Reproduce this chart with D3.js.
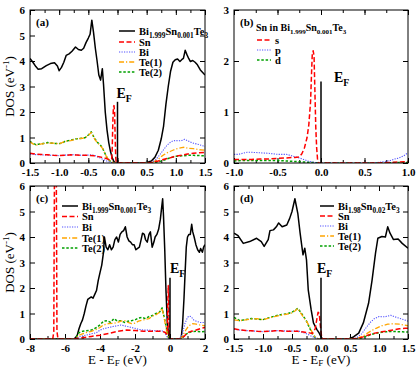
<!DOCTYPE html>
<html>
<head>
<meta charset="utf-8">
<script src="https://cdn.jsdelivr.net/npm/d3@7"></script>
<style>
body { margin: 0; background: #fff; }
svg { display: block; }
text { font-family: "Liberation Serif", "Times New Roman", serif; }
</style>
</head>
<body>
<div id="chart"></div>
<script>
// ---- data (E - E_F in eV, DOS in 1/eV) ----
var aTotal = [[-1.5,4.1],[-1.45,3.95],[-1.4,3.78],[-1.36,3.68],[-1.3,3.7],[-1.22,3.82],[-1.15,3.9],[-1.08,3.93],[-1.03,3.8],[-1.0,3.62],[-0.96,3.75],[-0.92,3.95],[-0.88,4.22],[-0.83,4.28],[-0.78,4.38],[-0.72,4.55],[-0.67,4.45],[-0.62,4.42],[-0.58,4.5],[-0.54,4.72],[-0.5,4.9],[-0.47,5.05],[-0.44,5.6],[-0.41,5.1],[-0.38,4.5],[-0.35,4.0],[-0.32,3.45],[-0.29,3.25],[-0.26,3.7],[-0.24,3.1],[-0.21,2.0],[-0.18,1.3],[-0.15,0.8],[-0.12,0.45],[-0.09,0.2],[-0.06,0.05],[-0.03,0],[0.45,0],[0.52,0.03],[0.58,0.08],[0.64,0.22],[0.7,0.5],[0.75,0.95],[0.79,1.45],[0.83,2.3],[0.87,3.0],[0.91,3.6],[0.95,3.95],[0.99,4.05],[1.03,4.08],[1.07,3.98],[1.1,4.05],[1.13,4.1],[1.16,4.42],[1.19,4.25],[1.22,4.1],[1.25,3.98],[1.29,4.02],[1.33,3.95],[1.37,3.85],[1.42,3.65],[1.46,3.55],[1.5,3.45]];
var aSn = [[-1.5,0.38],[-1.4,0.35],[-1.3,0.33],[-1.2,0.32],[-1.1,0.3],[-1.0,0.29],[-0.9,0.3],[-0.8,0.32],[-0.7,0.31],[-0.6,0.3],[-0.5,0.3],[-0.4,0.28],[-0.3,0.24],[-0.2,0.18],[-0.13,0.12],[-0.1,0.15],[-0.09,0.6],[-0.08,1.6],[-0.07,2.2],[-0.06,2.25],[-0.05,2.0],[-0.04,1.0],[-0.03,0.2],[-0.02,0],[0.5,0],[0.6,0.02],[0.7,0.08],[0.8,0.15],[0.9,0.2],[1.0,0.27],[1.1,0.3],[1.2,0.35],[1.3,0.38],[1.4,0.4],[1.5,0.42]];
var aBi = [[-1.5,0.35],[-1.4,0.33],[-1.3,0.32],[-1.2,0.31],[-1.1,0.3],[-1.0,0.29],[-0.9,0.31],[-0.8,0.33],[-0.7,0.32],[-0.6,0.3],[-0.5,0.31],[-0.45,0.32],[-0.4,0.3],[-0.35,0.25],[-0.3,0.2],[-0.25,0.14],[-0.2,0.09],[-0.15,0.05],[-0.1,0.02],[-0.05,0],[0.55,0],[0.6,0.05],[0.65,0.12],[0.7,0.25],[0.75,0.4],[0.8,0.55],[0.85,0.7],[0.9,0.8],[0.95,0.87],[1.0,0.88],[1.05,0.87],[1.1,0.88],[1.15,0.93],[1.2,0.88],[1.25,0.82],[1.3,0.78],[1.35,0.75],[1.4,0.72],[1.45,0.68],[1.5,0.65]];
var aTe1 = [[-1.5,0.82],[-1.45,0.75],[-1.4,0.7],[-1.35,0.72],[-1.3,0.75],[-1.2,0.78],[-1.1,0.78],[-1.0,0.75],[-0.95,0.8],[-0.9,0.85],[-0.8,0.88],[-0.7,0.95],[-0.6,0.97],[-0.55,1.0],[-0.5,1.08],[-0.45,1.2],[-0.42,1.05],[-0.38,0.9],[-0.34,0.78],[-0.3,0.7],[-0.25,0.55],[-0.2,0.3],[-0.15,0.12],[-0.1,0.04],[-0.05,0],[0.55,0],[0.6,0.03],[0.65,0.08],[0.7,0.15],[0.75,0.25],[0.8,0.33],[0.85,0.4],[0.9,0.45],[0.95,0.5],[1.0,0.55],[1.1,0.6],[1.15,0.62],[1.2,0.58],[1.3,0.56],[1.4,0.52],[1.5,0.5]];
var aTe2 = [[-1.5,0.85],[-1.45,0.77],[-1.4,0.72],[-1.35,0.74],[-1.3,0.75],[-1.2,0.8],[-1.1,0.77],[-1.0,0.76],[-0.95,0.78],[-0.9,0.85],[-0.8,0.9],[-0.7,0.95],[-0.6,0.97],[-0.55,1.0],[-0.5,1.1],[-0.45,1.22],[-0.42,1.08],[-0.38,0.92],[-0.34,0.8],[-0.3,0.72],[-0.26,0.6],[-0.22,0.4],[-0.18,0.2],[-0.12,0.06],[-0.06,0],[0.6,0],[0.7,0.04],[0.8,0.12],[0.9,0.2],[1.0,0.26],[1.1,0.28],[1.2,0.3],[1.3,0.3],[1.4,0.29],[1.5,0.28]];

var bS = [[-1,0.07],[-0.9,0.07],[-0.8,0.07],[-0.7,0.08],[-0.6,0.08],[-0.5,0.09],[-0.4,0.1],[-0.3,0.11],[-0.25,0.12],[-0.22,0.18],[-0.19,0.3],[-0.16,0.5],[-0.14,0.75],[-0.12,1.2],[-0.11,1.7],[-0.1,2.15],[-0.09,2.2],[-0.08,2.1],[-0.07,1.4],[-0.06,0.7],[-0.05,0.3],[-0.04,0.08],[-0.03,0],[0.6,0],[0.7,0.005],[0.8,0.01],[0.9,0.02],[1.0,0.03]];
var bP = [[-1,0.17],[-0.95,0.17],[-0.9,0.19],[-0.85,0.21],[-0.8,0.21],[-0.7,0.2],[-0.6,0.19],[-0.5,0.17],[-0.4,0.17],[-0.35,0.15],[-0.3,0.12],[-0.25,0.1],[-0.2,0.07],[-0.15,0.04],[-0.1,0.02],[-0.05,0.005],[0,0],[0.6,0],[0.7,0.02],[0.8,0.05],[0.85,0.08],[0.9,0.1],[0.95,0.14],[1.0,0.2]];
var bD = [[-1,0.04],[-0.9,0.05],[-0.8,0.05],[-0.7,0.05],[-0.6,0.05],[-0.5,0.05],[-0.4,0.04],[-0.3,0.03],[-0.2,0.02],[-0.1,0.01],[0,0],[0.7,0],[0.85,0.01],[1.0,0.01]];

var cTotal = [[-8,0],[-5.5,0],[-5.4,0.05],[-5.3,0.15],[-5.2,0.4],[-5.1,0.6],[-5.0,0.75],[-4.9,1.0],[-4.8,1.3],[-4.7,1.55],[-4.6,1.6],[-4.5,1.65],[-4.4,1.6],[-4.3,1.75],[-4.2,1.9],[-4.1,2.3],[-4.0,2.6],[-3.9,2.9],[-3.8,3.4],[-3.75,4.0],[-3.65,3.6],[-3.55,3.5],[-3.45,3.7],[-3.35,3.5],[-3.25,3.6],[-3.15,3.9],[-3.05,4.0],[-2.95,3.8],[-2.85,4.1],[-2.75,4.2],[-2.65,4.25],[-2.55,4.4],[-2.45,4.0],[-2.35,3.85],[-2.25,3.8],[-2.15,3.7],[-2.05,3.7],[-1.95,3.5],[-1.85,3.55],[-1.75,3.6],[-1.65,3.9],[-1.57,4.15],[-1.47,4.1],[-1.4,3.9],[-1.3,3.8],[-1.2,4.1],[-1.12,4.2],[-1.02,3.6],[-0.92,3.8],[-0.85,4.0],[-0.75,4.1],[-0.65,4.3],[-0.55,4.7],[-0.47,5.2],[-0.42,5.5],[-0.37,4.8],[-0.3,3.5],[-0.23,1.9],[-0.15,0.6],[-0.05,0],[0.6,0],[0.65,0.1],[0.72,0.6],[0.8,1.6],[0.87,2.7],[0.93,3.6],[1.0,4.0],[1.08,4.1],[1.16,4.1],[1.24,4.5],[1.3,4.2],[1.38,4.0],[1.48,3.7],[1.58,3.5],[1.68,3.4],[1.75,3.55],[1.85,3.4],[1.92,3.6],[2.0,3.7]];
var cSn = [[-8,0],[-6.7,0],[-6.64,0.3],[-6.6,7],[-6.5,7],[-6.46,0.3],[-6.4,0],[-5.5,0],[-5.2,0.03],[-5,0.05],[-4.5,0.1],[-4,0.15],[-3.5,0.22],[-3,0.3],[-2.5,0.35],[-2,0.33],[-1.5,0.3],[-1,0.3],[-0.5,0.3],[-0.3,0.27],[-0.2,0.2],[-0.15,0.3],[-0.12,1.5],[-0.1,2.1],[-0.07,1.5],[-0.05,0.3],[-0.02,0],[0.6,0],[0.8,0.1],[1.0,0.25],[1.2,0.3],[1.5,0.35],[1.8,0.42],[2.0,0.45]];
var cBi = [[-8,0],[-5.4,0],[-5.2,0.08],[-5,0.12],[-4.8,0.15],[-4.5,0.2],[-4.2,0.25],[-4,0.35],[-3.8,0.4],[-3.5,0.45],[-3.2,0.5],[-3,0.52],[-2.8,0.55],[-2.5,0.5],[-2.2,0.45],[-2,0.42],[-1.8,0.38],[-1.5,0.35],[-1.2,0.35],[-1,0.33],[-0.7,0.32],[-0.45,0.32],[-0.3,0.25],[-0.2,0.12],[-0.1,0.03],[0,0],[0.55,0],[0.7,0.2],[0.85,0.6],[1.0,0.85],[1.1,0.9],[1.2,0.88],[1.35,0.75],[1.5,0.7],[1.7,0.65],[2.0,0.65]];
var cTe1 = [[-8,0],[-5.4,0],[-5.2,0.15],[-5,0.2],[-4.8,0.25],[-4.5,0.3],[-4.2,0.38],[-4,0.45],[-3.8,0.55],[-3.5,0.6],[-3.2,0.62],[-3,0.65],[-2.8,0.7],[-2.6,0.72],[-2.4,0.65],[-2.2,0.6],[-2,0.62],[-1.8,0.7],[-1.5,0.75],[-1.2,0.8],[-1,0.9],[-0.8,0.95],[-0.6,1.05],[-0.45,1.2],[-0.38,0.95],[-0.3,0.7],[-0.22,0.4],[-0.12,0.1],[-0.05,0],[0.55,0],[0.7,0.1],[0.85,0.3],[1.0,0.45],[1.15,0.55],[1.3,0.6],[1.5,0.58],[1.7,0.55],[2.0,0.52]];
var cTe2 = [[-8,0],[-5.4,0],[-5.2,0.25],[-5,0.3],[-4.8,0.32],[-4.5,0.35],[-4.2,0.45],[-4,0.55],[-3.8,0.7],[-3.6,0.72],[-3.4,0.65],[-3.2,0.8],[-3,0.7],[-2.8,0.72],[-2.6,0.65],[-2.4,0.7],[-2.2,0.72],[-2,0.75],[-1.8,0.82],[-1.6,0.85],[-1.4,0.8],[-1.2,0.88],[-1,0.92],[-0.8,1.0],[-0.6,1.05],[-0.45,1.22],[-0.38,1.0],[-0.3,0.75],[-0.22,0.5],[-0.12,0.12],[-0.05,0],[0.6,0],[0.75,0.08],[0.9,0.18],[1.0,0.22],[1.2,0.28],[1.5,0.3],[1.8,0.28],[2.0,0.3]];

var dTotal = [[-1.5,4.15],[-1.43,4.05],[-1.34,3.75],[-1.23,3.82],[-1.11,3.95],[-1.03,3.82],[-0.98,3.63],[-0.91,3.9],[-0.88,4.25],[-0.82,4.28],[-0.77,4.4],[-0.73,4.55],[-0.67,4.4],[-0.59,4.47],[-0.54,4.73],[-0.5,5.0],[-0.45,5.5],[-0.4,4.93],[-0.36,4.15],[-0.33,3.63],[-0.31,3.3],[-0.28,3.56],[-0.25,3.1],[-0.22,1.93],[-0.17,1.15],[-0.13,0.63],[-0.07,0.37],[-0.03,0.23],[0.01,0.04],[0.04,0],[0.47,0],[0.56,0.08],[0.65,0.23],[0.73,0.63],[0.82,1.4],[0.88,2.3],[0.94,3.37],[0.98,3.95],[1.05,4.02],[1.11,4.0],[1.15,4.4],[1.19,4.15],[1.25,3.9],[1.33,3.92],[1.4,3.75],[1.5,3.56]];
var dSn = [[-1.5,0.4],[-1.4,0.36],[-1.3,0.33],[-1.2,0.32],[-1.1,0.3],[-1.0,0.29],[-0.9,0.3],[-0.8,0.32],[-0.7,0.32],[-0.6,0.3],[-0.5,0.31],[-0.4,0.3],[-0.3,0.27],[-0.2,0.24],[-0.15,0.22],[-0.1,0.4],[-0.07,0.8],[-0.05,1.05],[-0.03,1.0],[-0.01,0.5],[0.01,0.1],[0.03,0],[0.55,0],[0.65,0.03],[0.75,0.1],[0.85,0.18],[0.95,0.24],[1.05,0.28],[1.15,0.32],[1.25,0.36],[1.35,0.4],[1.45,0.42],[1.5,0.42]];
var dBi = [[-1.5,0.38],[-1.4,0.35],[-1.3,0.33],[-1.2,0.32],[-1.1,0.3],[-1.0,0.29],[-0.9,0.31],[-0.8,0.33],[-0.7,0.33],[-0.6,0.31],[-0.5,0.31],[-0.4,0.32],[-0.3,0.25],[-0.2,0.15],[-0.12,0.06],[-0.05,0.01],[0,0],[0.55,0],[0.62,0.06],[0.7,0.2],[0.78,0.45],[0.85,0.65],[0.92,0.8],[1.0,0.88],[1.1,0.87],[1.2,0.93],[1.3,0.85],[1.4,0.78],[1.5,0.7]];
var dTe1 = [[-1.5,0.75],[-1.4,0.72],[-1.3,0.75],[-1.2,0.78],[-1.1,0.8],[-1.0,0.75],[-0.9,0.82],[-0.8,0.88],[-0.7,0.93],[-0.6,0.97],[-0.5,1.02],[-0.45,1.1],[-0.4,1.2],[-0.36,1.05],[-0.3,0.85],[-0.25,0.7],[-0.2,0.5],[-0.15,0.25],[-0.1,0.08],[-0.05,0],[0.55,0],[0.65,0.05],[0.75,0.15],[0.85,0.3],[0.95,0.42],[1.05,0.52],[1.15,0.58],[1.25,0.6],[1.35,0.58],[1.5,0.52]];
var dTe2 = [[-1.5,0.85],[-1.45,0.78],[-1.4,0.72],[-1.3,0.76],[-1.2,0.8],[-1.1,0.78],[-1.0,0.76],[-0.9,0.83],[-0.8,0.9],[-0.7,0.95],[-0.6,0.98],[-0.5,1.05],[-0.45,1.12],[-0.4,1.2],[-0.36,1.08],[-0.3,0.88],[-0.25,0.7],[-0.2,0.45],[-0.15,0.2],[-0.1,0.06],[-0.05,0],[0.6,0],[0.7,0.04],[0.8,0.12],[0.9,0.2],[1.0,0.25],[1.1,0.28],[1.2,0.3],[1.3,0.29],[1.4,0.28],[1.5,0.27]];

// tick values
var xTicksAD = [-1.5, -1.0, -0.5, 0.0, 0.5, 1.0, 1.5];
var xTicksB = [-1.0, -0.5, 0.0, 0.5, 1.0];
var xTicksC = [-8, -6, -4, -2, 0, 2];
var yTicks6 = [0, 1, 2, 3, 4, 5, 6];
var yTicks3 = [0, 1, 2, 3];
// height of the E_F marker line
var efHeight = [2.4, 1.6, 2.4, 2.4];

// series styles
var styles = {
  total: {color: "#000", width: 1.5, dash: null},
  Sn:    {color: "#ff0000", width: 1.5, dash: "5,2.5"},
  Bi:    {color: "#5050ff", width: 1.1, dash: "1.2,1.3"},
  Te1:   {color: "#ffa500", width: 1.3, dash: "5,2,1.2,2"},
  Te2:   {color: "#00a000", width: 1.5, dash: "2.5,1.8"}
};

var W = 416, H = 369;
var svg = d3.select("#chart").append("svg").attr("width", W).attr("height", H);

function rich(sel, parts, size, subShift) {
  // parts: [text, "n" | "sub" | "sup"]
  var shift = 0, sub = subShift || 0.3;
  parts.forEach(function (p) {
    var t = sel.append("tspan").text(p[0]);
    var target = p[1] === "sub" ? size * sub : p[1] === "sup" ? -size * 0.4 : 0;
    if (target !== shift) { t.attr("dy", target - shift); shift = target; }
    if (p[1] !== "n") t.attr("font-size", size * 0.7);
  });
}

var compA = [["Bi", "n"], ["1.999", "sub"], ["Sn", "n"], ["0.001", "sub"], ["Te", "n"], ["3", "sub"]];
var compD = [["Bi", "n"], ["1.98", "sub"], ["Sn", "n"], ["0.02", "sub"], ["Te", "n"], ["3", "sub"]];

var panels = [
  {name: "(a)", box: [30, 205, 10, 163], xDom: [-1.5, 1.5], yDom: [0, 6], xTicks: xTicksAD, xMinor: 0.25, yTicks: yTicks6,
   fmt: function (d) { return d.toFixed(1); }, xTitle: false, yTitle: true,
   series: [["total", aTotal], ["Te2", aTe2], ["Te1", aTe1], ["Bi", aBi], ["Sn", aSn]],
   legend: {x: 119, len: 16, rows: [31, 42, 52, 62, 72], items: [["total", compA], ["Sn", [["Sn", "n"]]], ["Bi", [["Bi", "n"]]], ["Te1", [["Te(1)", "n"]]], ["Te2", [["Te(2)", "n"]]]]},
   ef: {dx: -1, y: 98}},
  {name: "(b)", box: [234, 408, 10, 163], xDom: [-1, 1], yDom: [0, 3], xTicks: xTicksB, xMinor: 0.25, yTicks: yTicks3,
   fmt: function (d) { return d.toFixed(1); }, xTitle: false, yTitle: false,
   series: [["Te2", bD], ["Bi", bP], ["Sn", bS]],
   title: {x: 256, y: 31, parts: [["Sn in Bi", "n"], ["1.999", "sub"], ["Sn", "n"], ["0.001", "sub"], ["Te", "n"], ["3", "sub"]]},
   legend: {x: 257, len: 14, rows: [40, 50, 60], items: [["Sn", [["s", "n"]]], ["Bi", [["p", "n"]]], ["Te2", [["d", "n"]]]]},
   ef: {dx: 13, y: 82}},
  {name: "(c)", box: [30, 205, 186, 339], xDom: [-8, 2], yDom: [0, 6], xTicks: xTicksC, xMinor: 1, yTicks: yTicks6,
   fmt: function (d) { return String(d); }, xTitle: true, yTitle: true,
   series: [["total", cTotal], ["Te2", cTe2], ["Te1", cTe1], ["Bi", cBi], ["Sn", cSn]],
   legend: {x: 62, len: 16, rows: [206, 216.5, 227, 238, 248], items: [["total", compA], ["Sn", [["Sn", "n"]]], ["Bi", [["Bi", "n"]]], ["Te1", [["Te(1)", "n"]]], ["Te2", [["Te(2)", "n"]]]]},
   ef: {dx: 0, y: 273}},
  {name: "(d)", box: [234, 408, 186, 339], xDom: [-1.5, 1.5], yDom: [0, 6], xTicks: xTicksAD, xMinor: 0.25, yTicks: yTicks6,
   fmt: function (d) { return d.toFixed(1); }, xTitle: true, yTitle: false,
   series: [["total", dTotal], ["Te2", dTe2], ["Te1", dTe1], ["Bi", dBi], ["Sn", dSn]],
   legend: {x: 320, len: 14, rows: [206, 216, 226, 236, 246], items: [["total", compD], ["Sn", [["Sn", "n"]]], ["Bi", [["Bi", "n"]]], ["Te1", [["Te(1)", "n"]]], ["Te2", [["Te(2)", "n"]]]]},
   ef: {dx: -4, y: 273}}
];

panels.forEach(function (p, i) {
  var b = p.box;
  var x = d3.scaleLinear().domain(p.xDom).range([b[0], b[1]]);
  var y = d3.scaleLinear().domain(p.yDom).range([b[3], b[2]]);
  var g = svg.append("g");
  var clipId = "clip" + i;
  svg.append("clipPath").attr("id", clipId).append("rect")
    .attr("x", b[0]).attr("y", b[2]).attr("width", b[1] - b[0]).attr("height", b[3] - b[2]);

  var minor = d3.range(p.xDom[0], p.xDom[1] + 1e-9, p.xMinor);

  // axes with inward ticks
  function axis(a, pos, vals, size, labels) {
    var ax = a.tickValues(vals).tickSize(-size).tickPadding(labels ? 5 : 0)
      .tickFormat(labels ? p.fmt : "");
    var gg = g.append("g").attr("transform", pos).call(ax);
    gg.select(".domain").remove();
    gg.selectAll("line").attr("stroke", "#000").attr("stroke-width", 1);
    gg.selectAll("text").attr("font-size", 11).attr("font-weight", "bold")
      .attr("font-family", "'Liberation Serif', serif").attr("fill", "#000");
    return gg;
  }
  var bx = axis(d3.axisBottom(x), "translate(0," + b[3] + ")", p.xTicks, 5, true);
  bx.selectAll("text").attr("dy", "0.71em").attr("y", 5);
  axis(d3.axisBottom(x), "translate(0," + b[3] + ")", minor, 3, false);
  axis(d3.axisTop(x), "translate(0," + b[2] + ")", p.xTicks, 5, false);
  axis(d3.axisTop(x), "translate(0," + b[2] + ")", minor, 3, false);
  axis(d3.axisLeft(y), "translate(" + b[0] + ",0)", p.yTicks, 5, true)
    .selectAll("text").text(function (d) { return d; });
  axis(d3.axisRight(y), "translate(" + b[1] + ",0)", p.yTicks, 5, false);

  // curves
  var line = d3.line().x(function (d) { return x(d[0]); }).y(function (d) { return y(d[1]); });
  var cg = g.append("g").attr("clip-path", "url(#" + clipId + ")");
  p.series.forEach(function (s) {
    var st = styles[s[0]];
    cg.append("path").datum(s[1]).attr("d", line)
      .attr("fill", "none").attr("stroke", st.color).attr("stroke-width", st.width)
      .attr("stroke-dasharray", st.dash).attr("stroke-linejoin", "round");
  });

  // E_F marker
  g.append("line").attr("x1", x(0)).attr("x2", x(0)).attr("y1", y(0)).attr("y2", y(efHeight[i]))
    .attr("stroke", "#000").attr("stroke-width", 1.5);
  var ef = g.append("text").attr("x", x(0) + p.ef.dx).attr("y", p.ef.y)
    .attr("font-size", 14).attr("font-weight", "bold");
  rich(ef, [["E", "n"], ["F", "sub"]], 14);

  // frame
  g.append("rect").attr("x", b[0]).attr("y", b[2]).attr("width", b[1] - b[0]).attr("height", b[3] - b[2])
    .attr("fill", "none").attr("stroke", "#000").attr("stroke-width", 1);

  // panel label
  g.append("text").attr("x", b[0] + 6).attr("y", b[2] + 16).attr("font-size", 11)
    .attr("font-weight", "bold").text(p.name);

  // legend
  if (p.title) {
    var tt = g.append("text").attr("x", p.title.x).attr("y", p.title.y)
      .attr("font-size", 10).attr("font-weight", "bold");
    rich(tt, p.title.parts, 10);
  }
  p.legend.items.forEach(function (it, k) {
    var st = styles[it[0]], yy = p.legend.rows[k];
    g.append("line").attr("x1", p.legend.x).attr("x2", p.legend.x + p.legend.len)
      .attr("y1", yy).attr("y2", yy)
      .attr("stroke", st.color).attr("stroke-width", st.width).attr("stroke-dasharray", st.dash);
    var t = g.append("text").attr("x", p.legend.x + p.legend.len + 4).attr("y", yy + 3.5)
      .attr("font-size", 10.5).attr("font-weight", "bold");
    rich(t, it[1], 10.5);
  });

  // axis titles
  if (p.yTitle) {
    var cy = (b[2] + b[3]) / 2;
    var yt = g.append("text").attr("transform", "translate(14," + cy + ") rotate(-90)")
      .attr("text-anchor", "middle").attr("font-size", 13);
    rich(yt, [["DOS (eV", "n"], ["-1", "sup"], [")", "n"]], 13);
  }
  if (p.xTitle) {
    var xt = g.append("text").attr("x", (b[0] + b[1]) / 2).attr("y", 364)
      .attr("text-anchor", "middle").attr("font-size", 13);
    rich(xt, [["E - E", "n"], ["F", "sub"], [" (eV)", "n"]], 13, 0.18);
  }
});
</script>
</body>
</html>
